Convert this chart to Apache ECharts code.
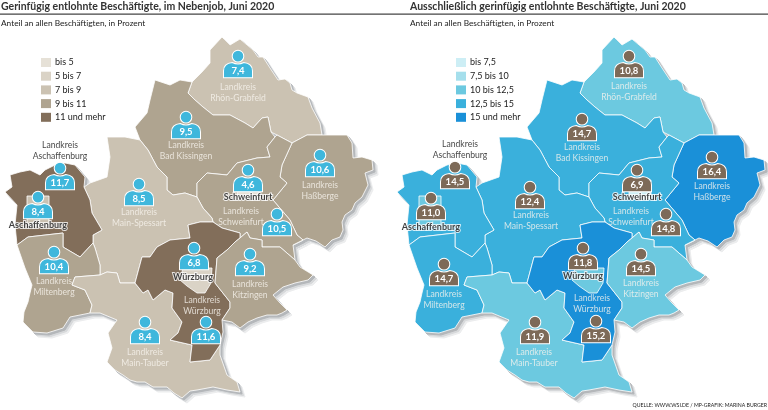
<!DOCTYPE html>
<html><head><meta charset="utf-8">
<style>html,body{margin:0;padding:0;background:#fff}#c{width:768px;height:410px}</style>
<script src="https://cdn.jsdelivr.net/npm/echarts@6/dist/echarts.min.js"></script>
</head><body><div id="c"></div>
<script>
const regionNames = ['Rhön-Grabfeld','Bad Kissingen','Haßberge','Schweinfurt Land','Schweinfurt Stadt','Main-Spessart','Aschaffenburg Land','Aschaffenburg Stadt','Miltenberg','Main-Tauber','Würzburg Land','Würzburg Stadt','Kitzingen'];
const nebenjobValues = [7.4,9.5,10.6,10.5,4.6,8.5,11.7,8.4,10.4,8.4,11.6,6.8,9.2];
const ausschliesslichValues = [10.8,14.7,16.4,14.8,6.9,12.4,14.5,11.0,14.7,11.9,15.2,11.8,14.5];
const nebenjobClasses = [2,3,3,3,0,2,4,2,3,2,4,1,3];
const ausschliesslichClasses = [2,3,4,3,0,3,3,2,3,2,4,2,2];
const nebenjobLegend = ['bis 5','5 bis 7','7 bis 9','9 bis 11','11 und mehr'];
const ausschliesslichLegend = ['bis 7,5','7,5 bis 10','10 bis 12,5','12,5 bis 15','15 und mehr'];
const nebenjobColours = ['#E6E1D7','#DAD3C6','#CBC2B2','#AFA490','#826E5A'];
const ausschliesslichColours = ['#CDEEF5','#A5DFEC','#6CC9E0','#3AB0DC','#1A90D8'];

const outlines = {
 'Rhön-Grabfeld':[[222,37],[230,45],[240,39],[253,50],[258,57],[263,57],[270,68],[278,80],[285,79],[290,83],[292,90],[297,93],[308,97],[312,108],[320,123],[322,135],[307,135],[292,143],[277,135],[271,132],[268,117],[262,118],[253,128],[245,123],[230,115],[213,115],[203,107],[195,100],[188,93],[192,82],[202,72],[210,63],[210,50]],
 'Bad Kissingen':[[155,80],[170,85],[180,80],[192,82],[188,93],[195,100],[203,107],[213,115],[230,115],[245,123],[253,128],[262,118],[268,117],[271,132],[275,137],[267,147],[270,157],[257,158],[237,163],[227,175],[207,173],[197,183],[197,197],[185,193],[173,195],[167,190],[167,177],[157,167],[148,150],[140,140],[135,127],[147,113],[150,100]],
 'Haßberge':[[292,143],[307,135],[322,135],[347,135],[352,143],[353,158],[362,157],[372,160],[373,170],[365,173],[368,185],[362,197],[355,203],[352,210],[345,215],[342,222],[343,230],[340,237],[332,240],[325,247],[316,241],[307,238],[293,245],[303,240],[297,235],[290,220],[273,200],[287,183],[280,177],[282,165]],
 'Schweinfurt Land':[[197,183],[207,173],[227,175],[237,163],[257,158],[270,157],[267,147],[275,137],[277,135],[292,143],[282,165],[280,177],[287,183],[273,200],[290,220],[297,235],[303,240],[293,245],[295,260],[280,247],[262,247],[262,240],[250,238],[247,232],[240,238],[240,233],[222,228],[213,222],[212,218],[203,208],[197,197]],
 'Schweinfurt Stadt':[[237,180],[259,180],[259,199],[237,199]],
 'Main-Spessart':[[107,137],[125,137],[140,140],[148,150],[157,167],[167,177],[167,190],[173,195],[185,193],[197,197],[203,208],[212,218],[213,222],[200,222],[188,225],[190,238],[170,240],[157,247],[150,257],[142,257],[135,283],[120,283],[117,273],[107,272],[100,275],[100,265],[95,248],[93,243],[93,235],[102,230],[92,213],[90,200],[84,187],[90,183],[107,177],[110,157]],
 'Aschaffenburg Land':[[10,175],[20,172],[30,170],[40,175],[45,170],[55,165],[65,163],[75,165],[85,177],[84,187],[90,200],[92,213],[102,230],[93,235],[93,243],[80,257],[63,247],[63,233],[28,237],[17,245],[15,225],[17,205],[5,192],[12,187]],
 'Aschaffenburg Stadt':[[27,196],[49,196],[49,226],[27,226]],
 'Miltenberg':[[17,245],[28,237],[63,233],[63,247],[80,257],[93,243],[95,248],[100,265],[100,275],[75,277],[72,285],[85,290],[92,305],[90,313],[70,317],[63,328],[47,333],[33,332],[23,322],[24,312],[28,302],[30,293],[32,285],[25,268]],
 'Main-Tauber':[[75,277],[100,275],[107,272],[117,273],[120,283],[135,283],[143,293],[148,290],[153,300],[165,290],[173,293],[172,308],[182,322],[178,333],[170,340],[192,345],[190,362],[210,360],[220,345],[220,355],[227,375],[237,382],[240,392],[227,390],[213,387],[197,390],[190,391],[182,398],[174,393],[167,387],[153,387],[145,382],[137,382],[130,380],[123,375],[115,370],[107,362],[112,348],[108,333],[117,320],[100,313],[90,313],[92,305],[85,290],[72,285]],
 'Würzburg Land':[[188,225],[200,222],[213,222],[222,228],[240,233],[240,238],[235,242],[227,250],[217,258],[215,283],[230,302],[230,308],[222,320],[223,332],[220,345],[210,360],[190,362],[192,345],[170,340],[178,333],[182,322],[172,308],[173,293],[165,290],[153,300],[148,290],[143,293],[135,283],[142,257],[150,257],[157,247],[170,240],[190,238]],
 'Würzburg Stadt':[[183,268],[212,268],[211,283],[205,293],[197,293],[187,286],[180,280]],
 'Kitzingen':[[240,238],[247,232],[250,238],[262,240],[262,247],[280,247],[295,260],[300,267],[313,275],[308,280],[295,283],[283,287],[273,295],[280,303],[287,310],[282,313],[277,315],[267,315],[257,318],[248,322],[240,328],[232,322],[222,320],[230,308],[230,302],[215,283],[217,258],[227,250],[235,242]]
};
const geoJson = {type:'FeatureCollection',features:regionNames.map(n=>({type:'Feature',properties:{name:n},geometry:{type:'Polygon',coordinates:[[...outlines[n],outlines[n][0]]]}}))};
echarts.registerMap('unterfranken',geoJson);

const leftIconAt = [[238,64],[186,125],[320,163],[277,222],[248,178],[139,192],[60,176],[38,205],[54,260],[145,330],[206,330],[194,256],[250,262]];
const rightIconAt = [[237,64],[190,127],[320,165],[274,222],[245,178],[138,195],[63,175],[39,206],[52,272],[143,330],[204,329],[191,256],[249,262]];
const leftTextAt = [[238,92.5],[186,151],[320,191],[241,217],[248,197],[139,218],[60,151],[38,225],[54,287],[145,358],[202,306],[193,277],[250,290]];
const rightTextAt = [[237,92],[190,153],[320,192],[239,217],[245,197],[139,221],[68,150],[39,227],[52,300],[142,358],[200,304],[191,276],[249,289]];
const regionTexts = ['Landkreis\nRhön-Grabfeld','Landkreis\nBad Kissingen','Landkreis\nHaßberge','Landkreis\nSchweinfurt','Schweinfurt','Landkreis\nMain-Spessart','Landkreis\nAschaffenburg','Aschaffenburg','Landkreis\nMiltenberg','Landkreis\nMain-Tauber','Landkreis\nWürzburg','Würzburg','Landkreis\nKitzingen'];

const personPath = 'path://M15 0A6 6 0 1 1 15 12A6 6 0 1 1 15 0ZM0 28L0 21Q0 13.5 9 12.5Q15 15.5 21 12.5Q30 13.5 30 21L30 28Z';
const FONT = 'Lato,"Noto Sans",sans-serif';

function base(left,top){return {map:'unterfranken',silent:true,left,top,width:376,height:410,
  projection:{project:p=>p,unproject:p=>p},boundingCoords:[[0,0],[376,410]],roam:false};}
const under=[[5,5,'#ECEDEE',1],[3.5,3.5,'#D6D8DA',2],[2,2,'#B4B7BA',3]];
const geo=[];
function panel(x){
  under.forEach(([dx,dy,c,z])=>geo.push({...base(x+dx,dy),z,itemStyle:{areaColor:c,borderColor:c,borderWidth:1}}));
  geo.push({...base(x,0),z:4,itemStyle:{areaColor:'#ccc',borderColor:'#fff',borderWidth:0.8}});
  return geo.length-1;
}
const leftGeo=panel(0), rightGeo=panel(392);

function mapSeries(geoIndex,classes){return {type:'map',geoIndex,data:regionNames.map((name,i)=>({name,value:classes[i]}))};}
function icons(geoIndex,vals,at,fill,txt){return {type:'scatter',coordinateSystem:'geo',geoIndex,z:6,silent:true,symbol:personPath,symbolSize:[29,27.5],
  itemStyle:{color:fill,borderColor:'#fff',borderWidth:1,opacity:1},
  label:{show:true,position:'inside',offset:[0,6.5],color:txt,fontFamily:FONT,fontSize:9.5,fontWeight:'bold',formatter:p=>p.value[2].toFixed(1).replace('.',',')},
  data:regionNames.map((name,i)=>({name,value:[at[i][0],at[i][1],vals[i]]}))};}
function texts(geoIndex,at){return {type:'scatter',coordinateSystem:'geo',geoIndex,z:5,silent:true,symbolSize:0.01,
  data:regionNames.map((name,i)=>{
    const city=/Stadt/.test(name), outside=name==='Aschaffenburg Land';
    return {name,value:at[i],label:{show:true,position:'inside',formatter:regionTexts[i],fontFamily:FONT,lineHeight:10.7,
      fontSize:city?9:8.6,fontWeight:city?'bold':'normal',color:(city||outside)?'#111':'#F7F4EE',
      textBorderColor:city?'#fff':'transparent',textBorderWidth:city?2:0}};
  })};}
function vm(seriesIndex,left,labels,colours){return {type:'piecewise',seriesIndex,left,top:43,orient:'vertical',inverse:true,align:'left',itemWidth:10,itemHeight:9,itemGap:4.7,itemSymbol:'rect',
  selectedMode:false,hoverLink:false,textGap:4,textStyle:{fontFamily:FONT,fontSize:9,color:'#222'},
  pieces:labels.map((label,i)=>({value:i,label,color:colours[i]})),show:true};}

const chart=echarts.init(document.getElementById('c'),null,{renderer:'canvas'});
chart.setOption({animation:false,backgroundColor:'#fff',
 title:[
  {text:'Gerinfügig entlohnte Beschäftigte, im Nebenjob, Juni 2020',left:1,top:1,padding:0,textStyle:{fontFamily:FONT,fontSize:10.5,fontWeight:'bold',color:'#333',lineHeight:12}},
  {text:'Ausschließlich gerinfügig entlohnte Beschäftigte, Juni 2020',left:410,top:1,padding:0,textStyle:{fontFamily:FONT,fontSize:10.5,fontWeight:'bold',color:'#333',lineHeight:12}},
  {text:'Anteil an allen Beschäftigten, in Prozent',left:1,top:18,padding:0,textStyle:{fontFamily:FONT,fontSize:8.3,fontWeight:'normal',color:'#222',lineHeight:10}},
  {text:'Anteil an allen Beschäftigten, in Prozent',left:410,top:18,padding:0,textStyle:{fontFamily:FONT,fontSize:8.3,fontWeight:'normal',color:'#222',lineHeight:10}},
  {text:'QUELLE: WWW.WSI.DE / MP-GRAFIK: MARINA BURGER',right:1,top:402,padding:0,textStyle:{fontFamily:FONT,fontSize:5.2,fontWeight:'normal',color:'#222',lineHeight:7}}
 ],
 graphic:[{type:'rect',shape:{x:0,y:13.5,width:768,height:1.3},style:{fill:'#444'},silent:true}],
 geo,
 visualMap:[vm(0,26,nebenjobLegend,nebenjobColours),vm(1,441,ausschliesslichLegend,ausschliesslichColours)],
 series:[mapSeries(leftGeo,nebenjobClasses),mapSeries(rightGeo,ausschliesslichClasses),
  texts(leftGeo,leftTextAt),texts(rightGeo,rightTextAt),
  icons(leftGeo,nebenjobValues,leftIconAt,'#3FB7DC','#fff'),icons(rightGeo,ausschliesslichValues,rightIconAt,'#7D6A58','#fff')]
});
</script></body></html>
